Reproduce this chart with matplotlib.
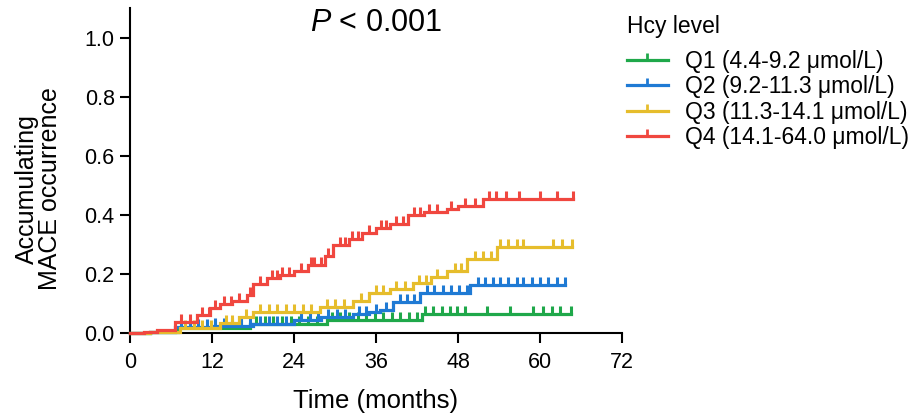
import numpy as np
import matplotlib
matplotlib.use("Agg")
import matplotlib.pyplot as plt
from matplotlib.lines import Line2D
from matplotlib.markers import TICKUP

plt.rcParams["font.family"] = ["Liberation Sans", "DejaVu Sans"]
plt.rcParams["mathtext.fontset"] = "custom"
plt.rcParams["mathtext.it"] = "Liberation Sans:italic"
plt.rcParams["mathtext.rm"] = "Liberation Sans"

# step curves: event times (months) and cumulative MACE occurrence after each step
q1_t = [0, 3, 7, 17.5, 28.8, 42.7]
q1_v = [0, 0.005, 0.017, 0.032, 0.044, 0.066]
q1_cens = [7.5, 8.8, 10, 11.3, 12.5, 13.8, 15, 16.3, 18.5, 19.8, 21, 22.3, 23.5,
           24.8, 26, 27.3, 29.5, 30.8, 32, 33.3, 34.5, 35.8, 37, 38.3, 39.5, 40.8,
           42, 43.2, 44.4, 45.6, 46.8, 47.8, 49, 52.2, 55.6, 59, 60.5, 61.8, 63, 64.6]

q2_t = [0, 3, 6.6, 12, 18, 24, 28, 32.6, 35, 36.6, 38.5, 42.5, 49.8]
q2_v = [0, 0.005, 0.02, 0.025, 0.032, 0.044, 0.054, 0.064, 0.07, 0.078, 0.105, 0.135, 0.163]
q2_cens = [7.5, 8.8, 10, 11.3, 12.5, 13.8, 15, 16.3, 17.5, 19, 20.3, 21.5, 22.8, 25,
           26.3, 27.5, 29, 30.3, 31.5, 33.5, 34.5, 36, 37.5, 39.5, 40.5, 41.5, 43.5,
           44.5, 45.8, 47, 48.2, 49.3, 51, 52, 53.1, 54.1, 55.3, 56.6, 57.5, 58.8,
           60, 61.2, 62.5, 63.6]

q3_t = [0, 3, 7.3, 13.2, 16, 18, 27.8, 32.7, 35, 38, 41.4, 44, 46.4, 49.3, 53.7]
q3_v = [0, 0.005, 0.017, 0.034, 0.054, 0.07, 0.088, 0.11, 0.135, 0.15, 0.17, 0.19,
        0.21, 0.25, 0.29]
q3_cens = [8, 9.3, 10.5, 11.8, 14, 15, 17, 19, 20.3, 21.5, 22.8, 24, 25.3, 26.5, 28.8,
           30, 31.3, 33.8, 36, 37, 39, 40.3, 42.3, 43.3, 45, 47.5, 48.5, 50.5, 51.7,
           52.8, 54.1, 55.3, 56.6, 57.5, 61.9, 63.2, 64.7]

q4_t = [0, 2, 4, 6.6, 9.8, 11.7, 13.2, 15, 17.1, 18, 20, 22, 24, 26, 28.5, 29.7, 32,
        34, 36, 38, 40.7, 43, 46.4, 48, 51.7]
q4_v = [0, 0.005, 0.01, 0.037, 0.061, 0.085, 0.10, 0.11, 0.13, 0.165, 0.186, 0.195,
        0.21, 0.23, 0.26, 0.30, 0.32, 0.34, 0.355, 0.37, 0.40, 0.41, 0.42, 0.43, 0.455]
q4_cens = [7.5, 8.8, 10.5, 11.5, 12.5, 13.8, 14.8, 16, 17.5, 19, 20.8, 21.5, 22.3,
           23.3, 25, 26.5, 27, 28, 29, 30.8, 31.5, 32.5, 33.3, 35, 36.8, 37.5, 39, 40,
           41.5, 42.5, 43.8, 45, 47, 49, 50.5, 52.5, 53.5, 55, 57, 60, 62.5, 64.8]

labels = ["Q1 (4.4-9.2 \u03bcmol/L)", "Q2 (9.2-11.3 \u03bcmol/L)",
          "Q3 (11.3-14.1 \u03bcmol/L)", "Q4 (14.1-64.0 \u03bcmol/L)"]
colors = ["#1fa84a", "#1f7ad4", "#e6bd2c", "#f0473f"]

groups = [(q1_t, q1_v, q1_cens), (q2_t, q2_v, q2_cens),
          (q3_t, q3_v, q3_cens), (q4_t, q4_v, q4_cens)]

fig = plt.figure(figsize=(9.12, 4.18), dpi=100)
ax = fig.add_axes([0.1425, 0.2033, 0.5395, 0.7764])

for (t, v, cens), col in zip(groups, colors):
    t = np.array(t)
    v = np.array(v)
    end = max(cens)
    ax.step(np.append(t, end), np.append(v, v[-1]), where="post",
            color=col, lw=2.3, solid_joinstyle="miter", clip_on=False, zorder=3)
    c = np.array(cens)
    cy = v[np.searchsorted(t, c, side="right") - 1]
    ax.plot(c, cy, ls="none", marker=TICKUP, ms=6, mew=2.2, color=col,
            clip_on=False, zorder=3)

ax.set_xlim(0, 72)
ax.set_ylim(0, 1.1)
ax.set_xticks([0, 12, 24, 36, 48, 60, 72])
ax.set_yticks([0.0, 0.2, 0.4, 0.6, 0.8, 1.0])
ax.set_yticklabels(["0.0", "0.2", "0.4", "0.6", "0.8", "1.0"])
for s in ["top", "right"]:
    ax.spines[s].set_visible(False)
for s in ["left", "bottom"]:
    ax.spines[s].set_linewidth(1.5)
ax.tick_params(direction="out", length=7, width=1.5, labelsize=15.5)
ax.tick_params(axis="x", pad=7)
ax.tick_params(axis="y", pad=4)

ax.set_xlabel("Time (months)", fontsize=18.5, labelpad=11)
ax.set_ylabel("Accumulating\nMACE occurrence", fontsize=18, linespacing=0.95)
ax.yaxis.set_label_coords(-0.138, 0.445)
ax.text(0.5, 0.955, r"$P$ < 0.001", transform=ax.transAxes, ha="center",
        va="center", fontsize=22)

handles = [Line2D([0], [0], color=col, lw=2.3, marker=TICKUP, ms=5, mew=2.0)
           for col in colors]
leg = fig.legend(handles, labels, loc="upper left", bbox_to_anchor=(0.687, 0.965),
                 frameon=False, fontsize=16.5, title="Hcy level", title_fontsize=16.5,
                 handlelength=1.8, handletextpad=0.75, labelspacing=0.1,
                 alignment="left", borderaxespad=0, borderpad=0.0)
leg._legend_box.sep = 9

fig.savefig("out.png", dpi=100)
